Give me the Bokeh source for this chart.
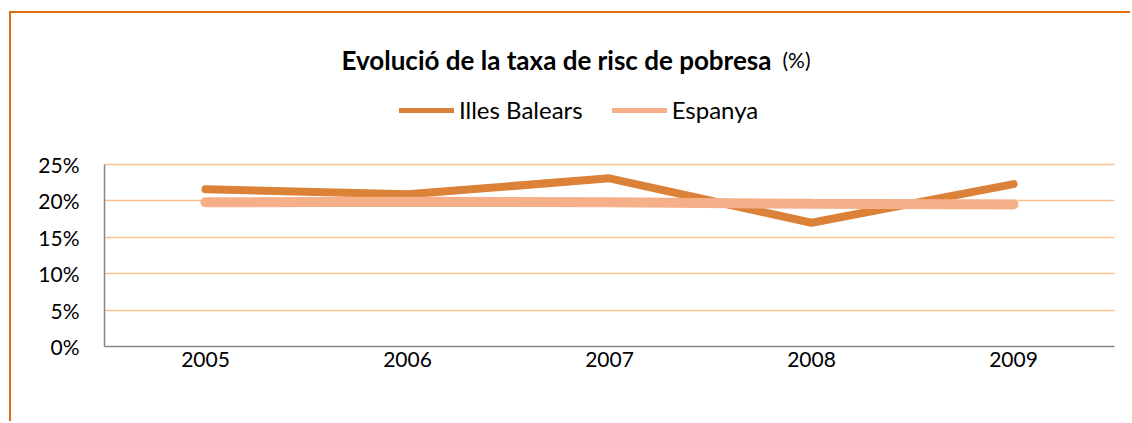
from bokeh.plotting import figure
from bokeh.models import FixedTicker, PrintfTickFormatter, Label, Legend, LegendItem
from bokeh.embed import file_html
from bokeh.resources import INLINE

years = [2005, 2006, 2007, 2008, 2009]
year_labels = ["2005", "2006", "2007", "2008", "2009"]
illes_balears = [21.6, 20.9, 23.1, 17.0, 22.3]
espanya = [19.8, 19.9, 19.8, 19.6, 19.5]
y_ticks = [0, 5, 10, 15, 20, 25]

FONT = "Lato"
ORANGE_DARK = "#DC8138"
ORANGE_LIGHT = "#F5B08A"

# plot area spans the whole height above the x axis, so that the title and legend
# (drawn inside it) are not clipped; the value axis stops at 25 %
FRAME_H = 333
AXIS_H = 182
y_top = 25 * FRAME_H / AXIS_H

p = figure(width=1121, height=410, output_backend="svg", toolbar_location=None,
           x_range=(2004.5, 2009.5), y_range=(0, y_top),
           min_border_left=93, min_border_top=0, min_border_right=18, min_border_bottom=77)
p.styles = {"margin-left": "9px", "margin-top": "11px",
            "border-left": "2px solid #E46C0A", "border-top": "2px solid #E46C0A"}
p.outline_line_color = None
p.background_fill_color = "white"
p.border_fill_color = "white"

l1 = p.line(years, illes_balears, line_color=ORANGE_DARK, line_width=8, line_cap="round")
l2 = p.line(years, espanya, line_color=ORANGE_LIGHT, line_width=10, line_cap="round")
# thinner copies used only for the legend swatches
k1 = p.line(years, illes_balears, line_color=ORANGE_DARK, line_width=5, line_cap="round", visible=False)
k2 = p.line(years, espanya, line_color=ORANGE_LIGHT, line_width=5, line_cap="round", visible=False)

p.xaxis.ticker = FixedTicker(ticks=years)
p.xaxis.major_label_overrides = {y: s for y, s in zip(years, year_labels)}
p.yaxis.ticker = FixedTicker(ticks=y_ticks)
p.yaxis.formatter = PrintfTickFormatter(format="%d%%")
p.yaxis.bounds = (0, 25)
for ax in (p.xaxis[0], p.yaxis[0]):
    ax.axis_line_color = "#868686"
    ax.axis_line_width = 1.5
    ax.major_tick_line_color = None
    ax.minor_tick_line_color = None
    ax.major_label_text_font = FONT
    ax.major_label_text_font_size = "21px"
    ax.major_label_text_color = "#000000"
p.yaxis.major_label_standoff = 19
p.xaxis.major_label_standoff = -1

p.xgrid.grid_line_color = None
p.ygrid.ticker = FixedTicker(ticks=y_ticks[1:])
p.ygrid.grid_line_color = "#FAC090"
p.ygrid.grid_line_width = 1.5

legend = Legend(items=[LegendItem(label="Illes Balears", renderers=[k1]),
                       LegendItem(label="Espanya", renderers=[k2])],
                orientation="horizontal", location=(295, 222),
                glyph_width=55, glyph_height=20, label_standoff=5, spacing=29,
                padding=0, margin=0, border_line_color=None, background_fill_alpha=0,
                label_text_font=FONT, label_text_font_size="24px", label_text_color="#000000")
p.add_layout(legend, "center")

t1 = Label(x=237, y=287, x_units="screen", y_units="screen", text="Evolució de la taxa de risc de pobresa",
           text_font=FONT, text_font_style="bold", text_font_size="26px", text_color="#000000",
           text_baseline="alphabetic")
t2 = Label(x=678, y=287, x_units="screen", y_units="screen", text="(%)",
           text_font=FONT, text_font_size="21px", text_color="#000000", text_baseline="alphabetic")
p.add_layout(t1)
p.add_layout(t2)

open("out.html", "w").write(file_html(p, INLINE))
